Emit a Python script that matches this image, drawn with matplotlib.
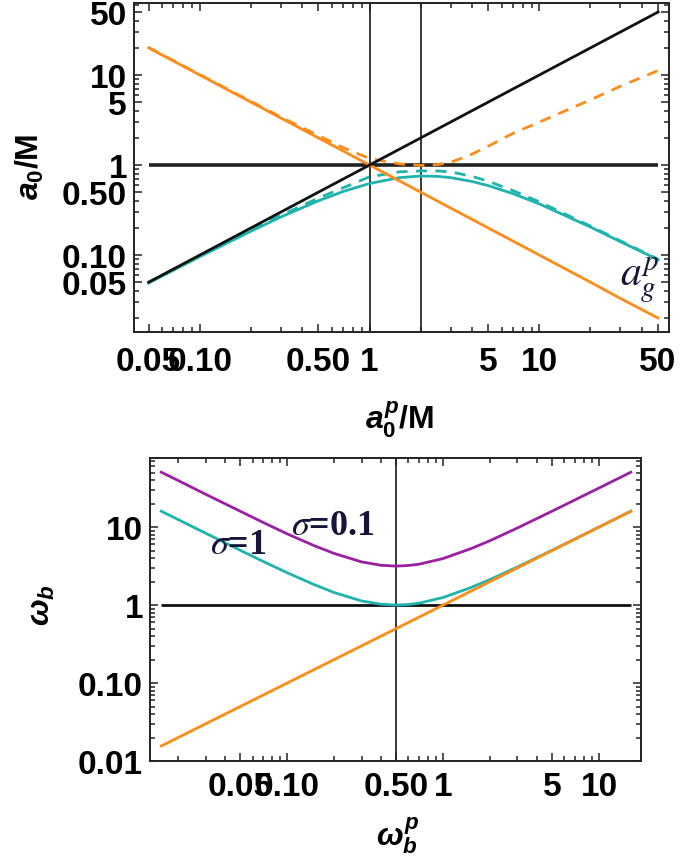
import matplotlib
matplotlib.use("Agg")
import matplotlib.pyplot as plt
from matplotlib.ticker import FixedLocator, LogLocator, NullFormatter

plt.rcParams['font.family'] = ['Liberation Sans', 'DejaVu Sans']
plt.rcParams['mathtext.fontset'] = 'custom'
plt.rcParams['mathtext.rm'] = 'Liberation Sans:bold'
plt.rcParams['mathtext.it'] = 'Liberation Sans:italic:bold'
plt.rcParams['mathtext.bf'] = 'Liberation Sans:bold'

# ---------------- top panel data ----------------
top_x = [0.05, 0.1, 0.2, 0.3, 0.5, 0.7, 1, 1.5, 2, 2.5, 3, 4, 5, 7, 10, 20, 30, 50]
top_black = [0.05, 0.1, 0.2, 0.3, 0.5, 0.7, 1, 1.5, 2, 2.5, 3, 4, 5, 7, 10, 20, 30, 50]
top_orange = [20, 10, 5, 3.33, 2, 1.43, 1, 0.667, 0.5, 0.4, 0.333, 0.25, 0.2, 0.143, 0.1, 0.05, 0.033, 0.02]
top_orange_dashed = [20.2, 10.1, 5.1, 3.42, 2.12, 1.56, 1.18, 1.03, 0.99, 1.01, 1.07, 1.32, 1.62, 2.25, 3.0, 5.3, 7.5, 11.2]
top_cyan = [0.049, 0.096, 0.184, 0.265, 0.401, 0.509, 0.624, 0.725, 0.755, 0.749, 0.725, 0.658, 0.591, 0.481, 0.370, 0.205, 0.141, 0.089]
top_cyan_dashed = [0.05, 0.098, 0.19, 0.276, 0.43, 0.56, 0.74, 0.84, 0.86, 0.86, 0.84, 0.75, 0.66, 0.52, 0.39, 0.21, 0.144, 0.09]
top_vlines = [1, 2]
top_hline_y = 1
top_hline_x = [0.05, 50]
top_xticks = [0.05, 0.1, 0.5, 1, 5, 10, 50]
top_xticklabels = ['0.05', '0.10', '0.50', '1', '5', '10', '50']
top_yticks = [0.05, 0.1, 0.5, 1, 5, 10, 50]
top_yticklabels = ['0.05', '0.10', '0.50', '1', '5', '10', '50']

# ---------------- bottom panel data ----------------
bot_x = [0.0156, 0.02, 0.03, 0.05, 0.07, 0.1, 0.15, 0.2, 0.3, 0.4, 0.5, 0.6, 0.7, 1, 1.5, 2, 3, 5, 7, 10, 16]
bot_orange = [0.0156, 0.02, 0.03, 0.05, 0.07, 0.1, 0.15, 0.2, 0.3, 0.4, 0.5, 0.6, 0.7, 1, 1.5, 2, 3, 5, 7, 10, 16]
bot_cyan = [16.0, 12.5, 8.36, 5.05, 3.64, 2.6, 1.82, 1.45, 1.13, 1.025, 1.0, 1.017, 1.057, 1.25, 1.67, 2.125, 3.08, 5.05, 7.04, 10.03, 16.0]
bot_purple = [50.6, 39.6, 26.4, 16.0, 11.5, 8.2, 5.75, 4.6, 3.58, 3.24, 3.16, 3.22, 3.34, 3.95, 5.27, 6.7, 9.75, 16.0, 22.3, 31.7, 50.6]
bot_vline = 0.5
bot_hline_y = 1
bot_hline_x = [0.0156, 16]
bot_xticks = [0.05, 0.1, 0.5, 1, 5, 10]
bot_xticklabels = ['0.05', '0.10', '0.50', '1', '5', '10']
bot_yticks = [0.01, 0.1, 1, 10]
bot_yticklabels = ['0.01', '0.10', '1', '10']

ORANGE = '#ff8c1a'
CYAN = '#1fb3ad'
PURPLE = '#9b1fa3'
TXT = '#15153a'

fig = plt.figure(figsize=(6.85, 8.62), dpi=100)
ax1 = fig.add_axes([134/685, 1-333/862, 535/685, 329/862])
ax2 = fig.add_axes([150/685, 1-762/862, 491/685, 303/862])

def style(ax, xt, xtl, yt, ytl, xpad, ypad):
    ax.set_xscale('log')
    ax.set_yscale('log')
    ax.xaxis.set_major_locator(FixedLocator(xt))
    ax.set_xticklabels(xtl)
    ax.yaxis.set_major_locator(FixedLocator(yt))
    ax.set_yticklabels(ytl)
    ax.xaxis.set_minor_locator(LogLocator(base=10, subs=range(1, 10), numticks=50))
    ax.yaxis.set_minor_locator(LogLocator(base=10, subs=range(1, 10), numticks=50))
    ax.xaxis.set_minor_formatter(NullFormatter())
    ax.yaxis.set_minor_formatter(NullFormatter())
    ax.tick_params(which='both', direction='in', top=True, right=True, color='#222222', width=1.1)
    ax.tick_params(which='major', length=6)
    ax.tick_params(which='minor', length=3.5)
    ax.tick_params(axis='x', which='major', pad=xpad, labelsize=24)
    ax.tick_params(axis='y', which='major', pad=ypad, labelsize=24)
    for lab in ax.get_xticklabels() + ax.get_yticklabels():
        lab.set_fontweight('bold')
    for s in ax.spines.values():
        s.set_linewidth(1.4)
        s.set_color('#222222')

# ---- top panel ----
for xv in top_vlines:
    ax1.axvline(xv, color='#3a3a3a', lw=1.4, zorder=1)
ax1.hlines(top_hline_y, top_hline_x[0], top_hline_x[1], color='#222222', lw=2.6, zorder=2)
ax1.plot(top_x, top_cyan_dashed, color=CYAN, lw=2.0, ls=(0, (4, 3)), zorder=3)
ax1.plot(top_x, top_cyan, color=CYAN, lw=2.0, zorder=3)
ax1.plot(top_x, top_orange_dashed, color=ORANGE, lw=2.0, ls=(0, (4, 3)), zorder=3)
ax1.plot(top_x, top_orange, color=ORANGE, lw=2.0, zorder=4)
ax1.plot(top_x, top_black, color='#111111', lw=2.0, zorder=4)
ax1.set_xlim(0.041, 58)
ax1.set_ylim(0.014, 63)
style(ax1, top_xticks, top_xticklabels, top_yticks, top_yticklabels, 10, 5)
ax1.text(0.945, 0.16, r'$a_g^p$', transform=ax1.transAxes, ha='center', va='center',
         fontsize=30, color=TXT, math_fontfamily='stix')

fig.text(30/685, 1-167/862, r'$a_0$/M', rotation=90, ha='center', va='center',
         fontsize=23, fontweight='bold')
fig.text(400/685, 1-420/862, r'$a_0^p$/M', ha='center', va='center',
         fontsize=23, fontweight='bold')

# ---- bottom panel ----
ax2.axvline(bot_vline, color='#3a3a3a', lw=1.4, zorder=1)
ax2.hlines(bot_hline_y, bot_hline_x[0], bot_hline_x[1], color='#111111', lw=2.0, zorder=2)
ax2.plot(bot_x, bot_purple, color=PURPLE, lw=2.0, zorder=3)
ax2.plot(bot_x, bot_cyan, color=CYAN, lw=2.0, zorder=3)
ax2.plot(bot_x, bot_orange, color=ORANGE, lw=2.0, zorder=3)
ax2.set_xlim(0.0132, 18.6)
ax2.set_ylim(0.01, 77)
style(ax2, bot_xticks, bot_xticklabels, bot_yticks, bot_yticklabels, 7, 5)
ax2.text(0.179, 0.716, r'$\sigma$=1', transform=ax2.transAxes, ha='center', va='center',
         fontsize=26, color=TXT, family='Liberation Serif', fontweight='bold', math_fontfamily='stix')
ax2.text(0.373, 0.776, r'$\sigma$=0.1', transform=ax2.transAxes, ha='center', va='center',
         fontsize=26, color=TXT, family='Liberation Serif', fontweight='bold', math_fontfamily='stix')

fig.text(42/685, 1-605/862, r'$\omega_b$', rotation=90, ha='center', va='center',
         fontsize=23, fontweight='bold')
fig.text(398/685, 1-836/862, r'$\omega_b^p$', ha='center', va='center',
         fontsize=23, fontweight='bold')

fig.savefig('out.png', dpi=100)
